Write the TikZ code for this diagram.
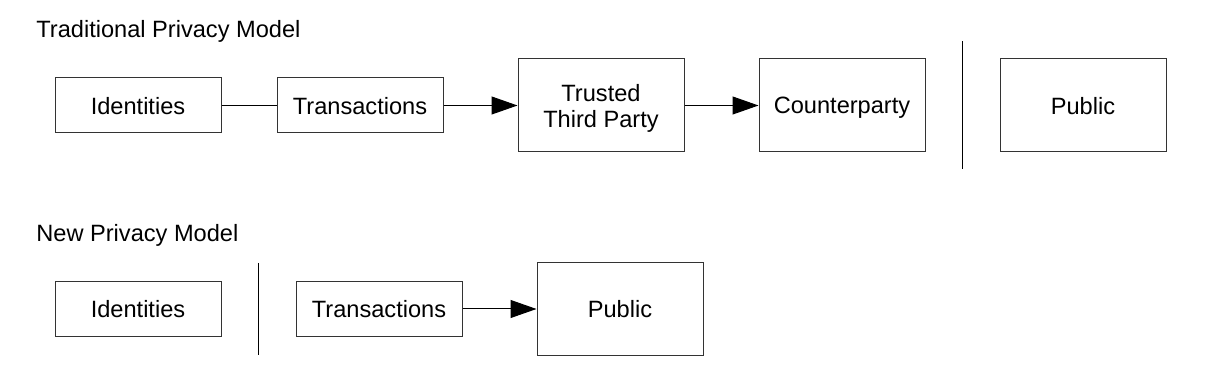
\documentclass[tikz,border=0pt]{standalone}
\usepackage{fontspec}
\setmainfont{Liberation Sans}
\usepackage{tikz}
\usetikzlibrary{arrows.meta, positioning, calc}

\begin{document}
\begin{tikzpicture}[
    x=0.5pt, y=0.5pt,
    node distance=37pt,
    font=\fontsize{11.8}{13}\selectfont,
    box/.style={draw=black!80,line width=0.5pt,minimum width=83pt,minimum height=27.5pt,inner sep=0pt,text depth=0pt,align=center},
    tallbox/.style={box,minimum height=46.5pt},
    title/.style={anchor=base west,inner sep=0pt},
    link/.style={line width=0.5pt},
    flow/.style={link,-{Triangle[length=13pt,width=9pt]}},
  ]
    \useasboundingbox (0,0) rectangle (1220,384);

    % traditional model
    \node[title] (trad) at (36,346) {Traditional Privacy Model};
    \node[box] (ident1) at (138,278.5) {Identities};
    \node[box, right=27.5pt of ident1] (trans1) {Transactions};
    \node[tallbox, right=of trans1] (ttp) {Trusted\\Third Party};
    \node[tallbox, right=of ttp] (cpty) {Counterparty};
    \node[tallbox, right=of cpty] (pub1) {Public};

    \draw[link] (ident1) -- (trans1);
    \draw[flow] (trans1) -- (ttp);
    \draw[flow] (ttp) -- (cpty);

    \coordinate (sep1a) at ($(cpty.east)!0.5!(pub1.west)+(0,32pt)$);
    \coordinate (sep1b) at ($(cpty.east)!0.5!(pub1.west)+(0,-32pt)$);
    \draw[link] (sep1a) -- (sep1b);

    % new model
    \node[title] (new) at (36,142) {New Privacy Model};
    \node[box] (ident2) at (138,75) {Identities};
    \node[box, right=of ident2] (trans2) {Transactions};
    \node[tallbox, right=of trans2] (pub2) {Public};

    \draw[flow] (trans2) -- (pub2);

    \coordinate (sep2a) at ($(ident2.east)!0.5!(trans2.west)+(0,23pt)$);
    \coordinate (sep2b) at ($(ident2.east)!0.5!(trans2.west)+(0,-23pt)$);
    \draw[link] (sep2a) -- (sep2b);
\end{tikzpicture}
\end{document}
